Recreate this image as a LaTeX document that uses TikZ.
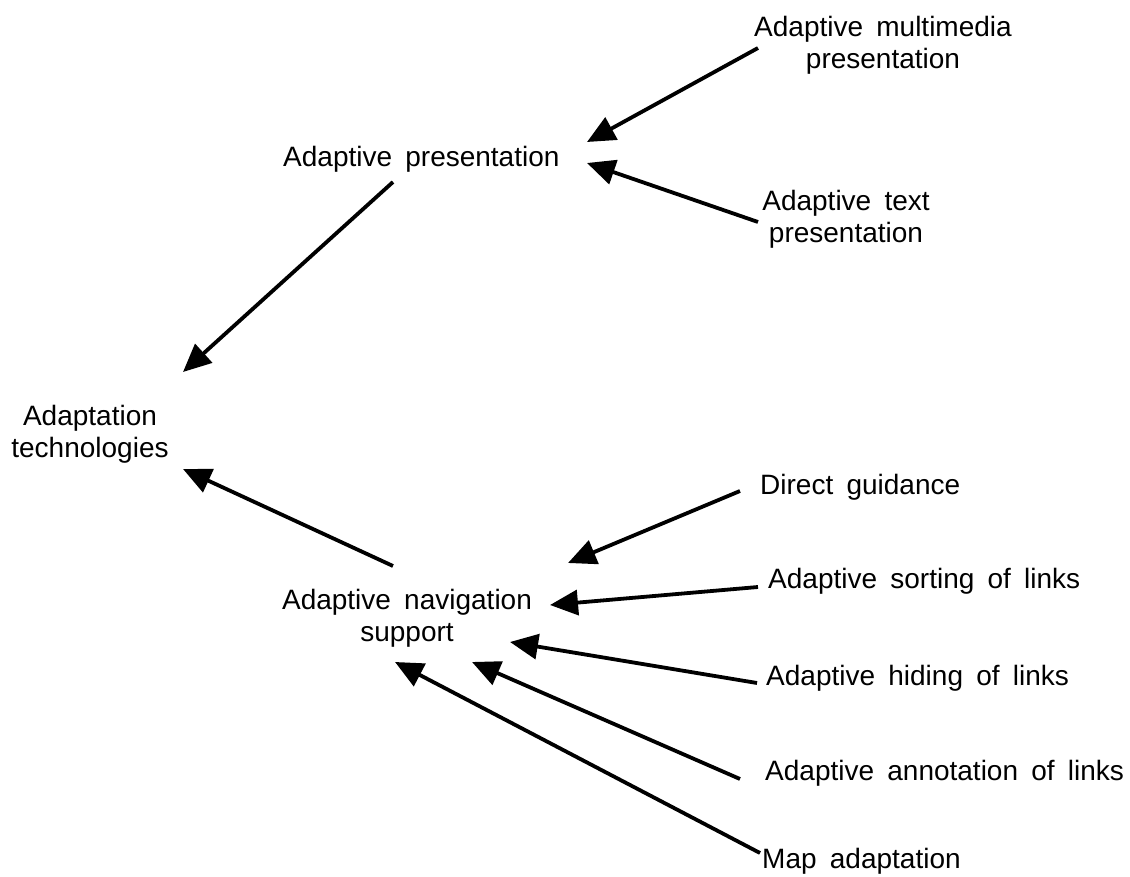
\documentclass[tikz,border=0pt]{standalone}
\usepackage{fontspec}
\setmainfont[WordSpace=1.7]{Liberation Sans}
\usepackage{tikz}
\usetikzlibrary{arrows.meta}
\tikzstyle{tech}=[
  x=1pt,y=-1pt,font=\fontsize{28}{32}\selectfont
]
\tikzstyle{label}=[
  inner sep=0pt,anchor=base west
]
\tikzstyle{block}=[
  inner sep=0pt,align=center
]
\tikzstyle{link}=[
  line width=3.8pt,-{Triangle[length=28pt,width=25pt]}
]

\begin{document}
\begin{tikzpicture}[tech]
    \useasboundingbox (0,0) rectangle (1130,877);
    % main parts
    \node (at) at (90,434) [block] {Adaptation\\technologies};
    \node (ap) at (283,167) [label] {Adaptive presentation};
    \node (ans) at (407,618) [block] {Adaptive navigation\\support};
    % presentation
    \node (amp) at (883,45) [block] {Adaptive multimedia\\presentation};
    \node (atp) at (846,219) [block] {Adaptive text\\presentation};
    % navigation
    \node (dg) at (760,494) [label] {Direct guidance};
    \node (asl) at (768,588) [label] {Adaptive sorting of links};
    \node (ahl) at (766,685) [label] {Adaptive hiding of links};
    \node (aal) at (765,780) [label] {Adaptive annotation of links};
    \node (ma) at (762,868) [label] {Map adaptation};
    % arrow ends
    \coordinate (amp-out) at (758,48);
    \coordinate (atp-out) at (758,222);
    \coordinate (ap-in1) at (587,142);
    \coordinate (ap-in2) at (587,163);
    \coordinate (ap-out) at (393,182);
    \coordinate (at-in1) at (183,372);
    \coordinate (at-in2) at (183,469);
    \coordinate (ans-out) at (393,566);
    \coordinate (dg-out) at (740,491);
    \coordinate (asl-out) at (758,587);
    \coordinate (ahl-out) at (757,683);
    \coordinate (aal-out) at (740,779);
    \coordinate (ma-out) at (760,853);
    \coordinate (ans-in1) at (568,563);
    \coordinate (ans-in2) at (550,605);
    \coordinate (ans-in3) at (510,642);
    \coordinate (ans-in4) at (472,662);
    \coordinate (ans-in5) at (395,662);
    \draw [link] (amp-out) -- (ap-in1);
    \draw [link] (atp-out) -- (ap-in2);
    \draw [link] (ap-out) -- (at-in1);
    \draw [link] (ans-out) -- (at-in2);
    \draw [link] (dg-out) -- (ans-in1);
    \draw [link] (asl-out) -- (ans-in2);
    \draw [link] (ahl-out) -- (ans-in3);
    \draw [link] (aal-out) -- (ans-in4);
    \draw [link] (ma-out) -- (ans-in5);
\end{tikzpicture}
\end{document}
